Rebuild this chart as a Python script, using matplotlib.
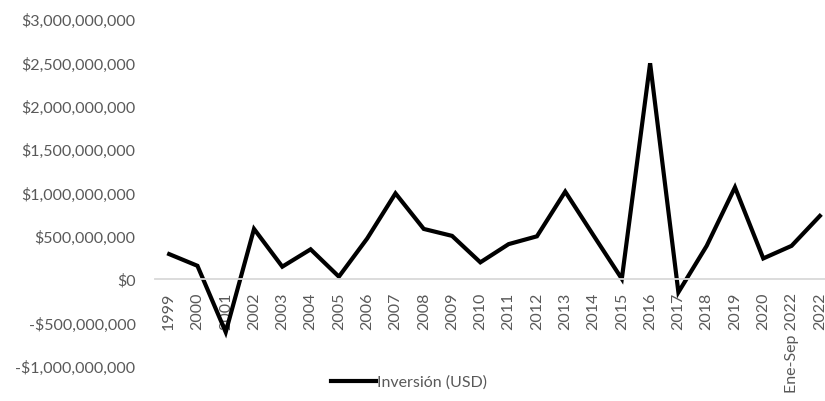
import matplotlib.pyplot as plt
from matplotlib.ticker import FuncFormatter, MultipleLocator

# Annual investment (USD)
years = ['1999', '2000', '2001', '2002', '2003', '2004', '2005', '2006',
         '2007', '2008', '2009', '2010', '2011', '2012', '2013', '2014',
         '2015', '2016', '2017', '2018', '2019', '2020', 'Ene-Sep 2022', '2022']
inversion = [290e6, 155e6, -610e6, 580e6, 145e6, 345e6, 30e6, 470e6,
             990e6, 580e6, 500e6, 195e6, 405e6, 495e6, 1010e6, 505e6,
             5e6, 2490e6, -150e6, 385e6, 1060e6, 240e6, 385e6, 730e6]

plt.rcParams['font.family'] = ['Lato', 'DejaVu Sans']
grey = '#595959'
fs = 11.5

fig = plt.figure(figsize=(8.25, 4.02), dpi=100)
ax = fig.add_axes([155 / 825, 35 / 402, 679 / 825, 347 / 402])

x = list(range(len(years)))
line, = ax.plot(x, inversion, color='black', linewidth=3,
                solid_joinstyle='miter', label='Inversión (USD)')

ax.set_xlim(-0.5, len(years) - 0.5)
ax.set_ylim(-1e9, 3e9)
ax.yaxis.set_major_locator(MultipleLocator(5e8))


def money(v, pos):
    s = f"${abs(v):,.0f}"
    return '-' + s if v < 0 else s


ax.yaxis.set_major_formatter(FuncFormatter(money))

for side in ['top', 'right', 'left']:
    ax.spines[side].set_visible(False)
ax.spines['bottom'].set_position(('data', 0))
ax.spines['bottom'].set_color('#d9d9d9')
ax.spines['bottom'].set_linewidth(1.3)

ax.set_xticks(x)
ax.set_xticklabels(years)
ax.tick_params(axis='x', length=0, pad=9, labelsize=fs, labelcolor=grey,
               labelrotation=90)
ax.tick_params(axis='y', length=0, pad=14, labelsize=fs, labelcolor=grey)

fig.legend(handles=[line], loc='center', bbox_to_anchor=(409 / 825, 1 - 383 / 402),
           frameon=False, fontsize=fs, labelcolor=grey,
           handlelength=2.8, handletextpad=0.1)

fig.savefig('out.png', dpi=100, facecolor='white')
